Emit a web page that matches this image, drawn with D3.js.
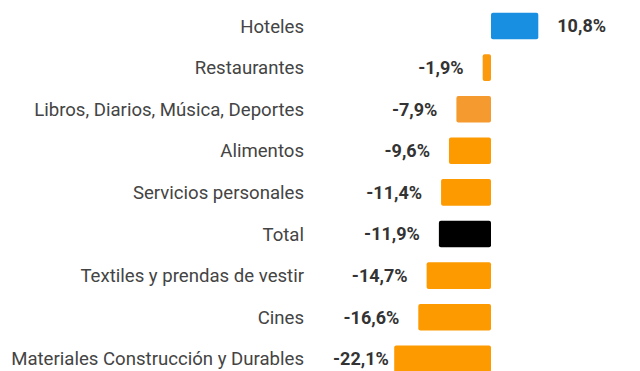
<!DOCTYPE html>
<html>
<head>
<meta charset="utf-8">
<script src="https://cdn.jsdelivr.net/npm/d3@7"></script>
<style>
  body { margin: 0; background: #fff; }
  svg { display: block; font-family: Roboto, "Noto Sans", sans-serif; }
</style>
</head>
<body>
<svg></svg>
<script>
var width = 640;
var height = 371;

var categories = [
    "Hoteles",
    "Restaurantes",
    "Libros, Diarios, Música, Deportes",
    "Alimentos",
    "Servicios personales",
    "Total",
    "Textiles y prendas de vestir",
    "Cines",
    "Materiales Construcción y Durables"
];
var values = [10.8, -1.9, -7.9, -9.6, -11.4, -11.9, -14.7, -16.6, -22.1];
var colors = ["#188fe0", "#fb9a0c", "#f59a2e", "#fd9a00", "#fd9a00", "#000000", "#fd9a00", "#fd9a00", "#fd9a00"];

var data = categories.map(function(c, i){ return {name: c, value: values[i], color: colors[i]}; });

var svg = d3.select("svg")
            .attr("width", width)
            .attr("height", height);

var xscale = d3.scaleLinear()
               .domain([0, 10.8])
               .range([491, 538.3]);

var yscale = d3.scaleBand()
               .domain(categories)
               .range([5.2, 5.2 + 9 * 41.6])
               .paddingInner(0.36)
               .paddingOuter(0.18);

var labelRight = 304;
var fmt = function(v){ return (v.toFixed(1) + "%").replace(".", ","); };

// category names
svg.selectAll("text.cat")
    .data(data)
    .enter().append("text")
    .attr("class", "cat")
    .attr("x", labelRight)
    .attr("y", function(d){ return yscale(d.name) + yscale.bandwidth()/2; })
    .attr("dy", "0.35em")
    .attr("text-anchor", "end")
    .attr("font-size", 18.6)
    .attr("fill", "#444")
    .text(function(d){ return d.name; });

// bars
svg.selectAll("rect")
    .data(data)
    .enter().append("rect")
    .attr("x", function(d){ return Math.min(xscale(0), xscale(d.value)); })
    .attr("y", function(d){ return yscale(d.name); })
    .attr("width", function(d){ return Math.abs(xscale(d.value) - xscale(0)); })
    .attr("height", yscale.bandwidth())
    .attr("rx", 2)
    .attr("fill", function(d){ return d.color; });

// value labels, kept clear of the category names
var vals = svg.selectAll("text.val")
    .data(data)
    .enter().append("text")
    .attr("class", "val")
    .attr("y", function(d){ return yscale(d.name) + yscale.bandwidth()/2; })
    .attr("dy", "0.35em")
    .attr("font-size", 18)
    .attr("font-weight", "bold")
    .attr("fill", "#333")
    .attr("text-anchor", function(d){ return d.value < 0 ? "end" : "start"; })
    .text(function(d){ return fmt(d.value); });

vals.attr("x", function(d){
    if (d.value >= 0) return xscale(d.value) + 19;
    var w = this.getComputedTextLength();
    return Math.max(xscale(d.value) - 19, labelRight + 29 + w);
});
</script>
</body>
</html>
